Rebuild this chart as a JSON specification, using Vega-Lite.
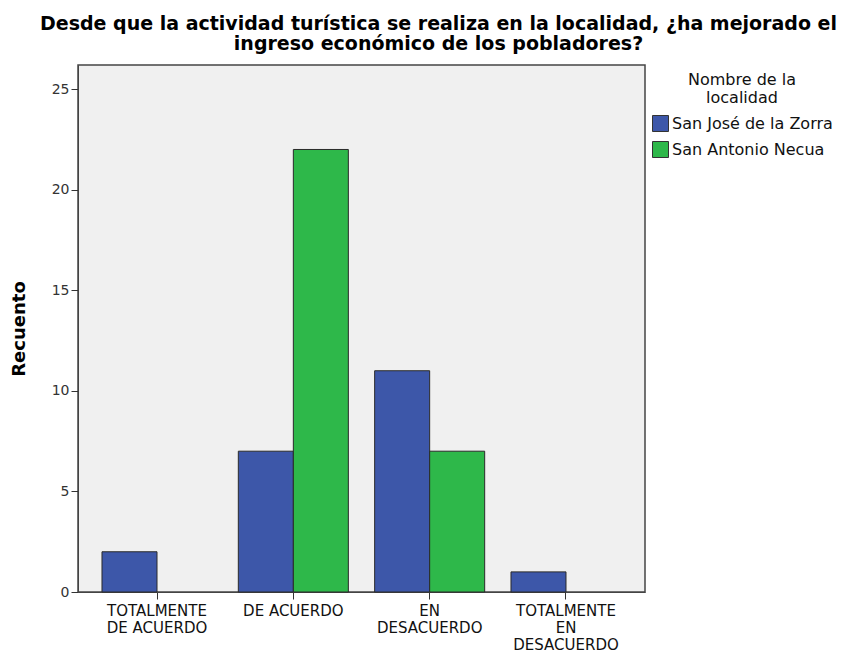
{
  "$schema": "https://vega.github.io/schema/vega-lite/v6.json",
  "autosize": "none",
  "width": 567,
  "height": 527,
  "padding": {"left": 78, "top": 65, "right": 209, "bottom": 62},
  "background": "white",
  "title": {
    "text": ["Desde que la actividad turística se realiza en la localidad, ¿ha mejorado el", "ingreso económico de los pobladores?"],
    "anchor": "middle",
    "frame": "group",
    "dx": 77,
    "font": "DejaVu Sans",
    "fontSize": 19,
    "fontWeight": "bold",
    "color": "#000000",
    "lineHeight": 20,
    "offset": 11
  },
  "data": {
    "values": [
      {"respuesta": "TOTALMENTE DE ACUERDO", "localidad": "San José de la Zorra", "recuento": 2},
      {"respuesta": "DE ACUERDO", "localidad": "San José de la Zorra", "recuento": 7},
      {"respuesta": "DE ACUERDO", "localidad": "San Antonio Necua", "recuento": 22},
      {"respuesta": "EN DESACUERDO", "localidad": "San José de la Zorra", "recuento": 11},
      {"respuesta": "EN DESACUERDO", "localidad": "San Antonio Necua", "recuento": 7},
      {"respuesta": "TOTALMENTE EN DESACUERDO", "localidad": "San José de la Zorra", "recuento": 1}
    ]
  },
  "mark": {"type": "bar", "stroke": "#2a2a2a", "strokeWidth": 1},
  "encoding": {
    "x": {
      "field": "respuesta",
      "type": "nominal",
      "sort": ["TOTALMENTE DE ACUERDO", "DE ACUERDO", "EN DESACUERDO", "TOTALMENTE EN DESACUERDO"],
      "scale": {"paddingInner": 0.193, "paddingOuter": 0.176},
      "axis": {
        "title": null,
        "labelAngle": 0,
        "labelFont": "DejaVu Sans",
        "labelFontSize": 15,
        "labelColor": "#111111",
        "labelPadding": 4,
        "tickSize": 7,
        "tickColor": "#333333",
        "domainColor": "#444444",
        "labelLineHeight": 17,
        "labelExpr": "datum.value == 'TOTALMENTE DE ACUERDO' ? ['TOTALMENTE', 'DE ACUERDO'] : datum.value == 'EN DESACUERDO' ? ['EN', 'DESACUERDO'] : datum.value == 'TOTALMENTE EN DESACUERDO' ? ['TOTALMENTE', 'EN', 'DESACUERDO'] : datum.value"
      }
    },
    "xOffset": {
      "field": "localidad",
      "type": "nominal",
      "sort": ["San José de la Zorra", "San Antonio Necua"]
    },
    "y": {
      "field": "recuento",
      "type": "quantitative",
      "scale": {"domain": [0, 26.2], "nice": false},
      "axis": {
        "title": "Recuento",
        "titleFont": "DejaVu Sans",
        "titleFontSize": 18,
        "titleFontWeight": "bold",
        "titleColor": "#000000",
        "titleX": -50,
        "values": [0, 5, 10, 15, 20, 25],
        "grid": false,
        "labelFont": "DejaVu Sans",
        "labelFontSize": 14,
        "labelColor": "#333333",
        "tickSize": 7,
        "tickColor": "#333333",
        "domainColor": "#444444",
        "labelPadding": 2
      }
    },
    "color": {
      "field": "localidad",
      "type": "nominal",
      "sort": ["San José de la Zorra", "San Antonio Necua"],
      "scale": {"domain": ["San José de la Zorra", "San Antonio Necua"], "range": ["#3d57a9", "#2eb84a"]},
      "legend": {
        "title": ["Nombre de la", "localidad"],
        "orient": "none",
        "legendX": 574,
        "legendY": 7,
        "titleFont": "DejaVu Sans",
        "titleFontSize": 16,
        "titleFontWeight": "normal",
        "titleColor": "#111111",
        "titleAnchor": "middle",
        "titleLineHeight": 18,
        "titlePadding": 9,
        "titleLimit": 300,
        "labelFont": "DejaVu Sans",
        "labelFontSize": 16,
        "labelLimit": 300,
        "labelColor": "#111111",
        "labelOffset": 3,
        "symbolType": "square",
        "symbolSize": 256,
        "symbolStrokeColor": "#333333",
        "symbolStrokeWidth": 1,
        "symbolOpacity": 1,
        "rowPadding": 5
      }
    }
  },
  "config": {
    "view": {"fill": "#f0f0f0", "stroke": "#444444", "strokeWidth": 1.5}
  }
}
